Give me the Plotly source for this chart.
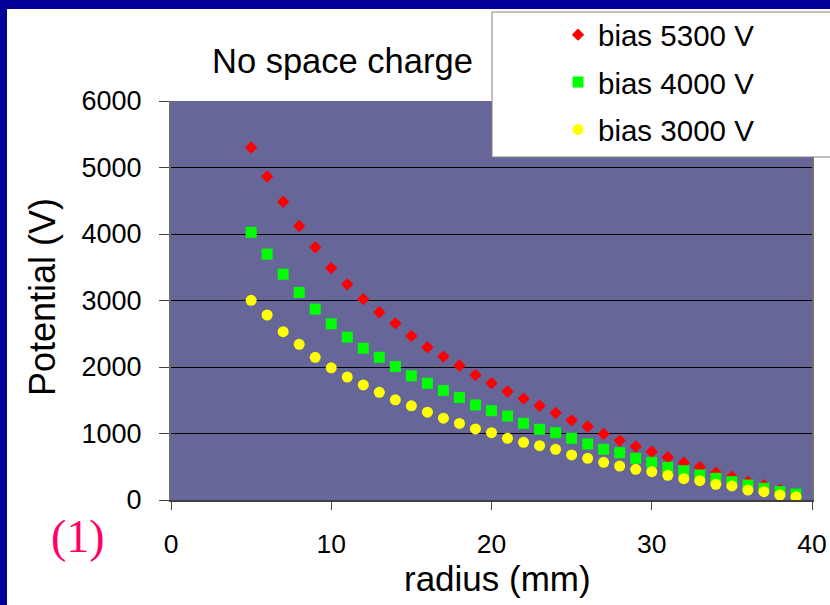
import plotly.graph_objects as go

radius = list(range(5, 40))

bias_5300 = [5300, 4865, 4485, 4120, 3800, 3487, 3243, 3020, 2823, 2657,
             2466, 2297, 2157, 2022, 1880, 1757, 1632, 1525, 1418, 1310,
             1198, 1106, 994, 893, 804, 726, 644, 560, 492, 410,
             350, 274, 222, 150, 75]
bias_4000 = [4025, 3697, 3396, 3120, 2870, 2650, 2450, 2282, 2146, 2008,
             1868, 1755, 1647, 1541, 1429, 1343, 1263, 1153, 1063, 1012,
             927, 842, 762, 711, 627, 566, 491, 441, 376, 326,
             276, 226, 176, 125, 90]
bias_3000 = [3003, 2782, 2531, 2341, 2145, 1988, 1848, 1730, 1620, 1506,
             1417, 1320, 1230, 1152, 1068, 1012, 927, 867, 817, 762,
             677, 627, 566, 511, 461, 426, 371, 321, 291, 236,
             211, 150, 125, 75, 50]

series_names = ["bias 5300 V", "bias 4000 V", "bias 3000 V"]
x_ticks = [0, 10, 20, 30, 40]
y_ticks = [0, 1000, 2000, 3000, 4000, 5000, 6000]

FONT = "Liberation Sans, Arial, sans-serif"

fig = go.Figure()
styles = [
    dict(symbol="diamond", color="#FF0000", size=9.5),
    dict(symbol="square", color="#00FF00", size=11),
    dict(symbol="circle", color="#FFFF00", size=11),
]
for name, vals, st, grp in zip(series_names, [bias_5300, bias_4000, bias_3000], styles, ["a", "b", "c"]):
    fig.add_trace(go.Scatter(
        x=radius, y=vals, mode="markers", name=name, legendgroup=grp,
        marker=dict(symbol=st["symbol"], color=st["color"], size=st["size"], line=dict(width=0)),
        cliponaxis=False,
    ))

W, H = 830, 605
L, R, T, B = 171, 18, 101, 105
pw, ph = W - L - R, H - T - B


def px(x):
    return (x - L) / pw


def py(y):
    return (H - B - y) / ph


shapes = [
    # blue slide frame (top and left strips)
    dict(type="rect", xref="paper", yref="paper", x0=px(-5), x1=px(840), y0=py(9), y1=py(-5),
         fillcolor="#000099", line=dict(width=0), layer="above"),
    dict(type="rect", xref="paper", yref="paper", x0=px(-5), x1=px(7), y0=py(610), y1=py(-5),
         fillcolor="#000099", line=dict(width=0), layer="above"),
    # legend box
    dict(type="rect", xref="paper", yref="paper", x0=px(492), x1=px(840), y0=py(157), y1=py(12),
         fillcolor="white", line=dict(color="#808080", width=1), layer="above"),
]

annotations = [
    dict(text="No space charge", x=px(342), y=py(61), xref="paper", yref="paper",
         showarrow=False, xanchor="center", yanchor="middle",
         font=dict(family=FONT, size=34.5, color="black")),
    dict(text="radius (mm)", x=px(497), y=py(578), xref="paper", yref="paper",
         showarrow=False, xanchor="center", yanchor="middle",
         font=dict(family=FONT, size=35, color="black")),
    dict(text="Potential (V)", x=px(42), y=py(297), xref="paper", yref="paper",
         showarrow=False, xanchor="center", yanchor="middle", textangle=-90,
         font=dict(family=FONT, size=36, color="black")),
    dict(text="(1)", x=px(78), y=py(536), xref="paper", yref="paper",
         showarrow=False, xanchor="center", yanchor="middle",
         font=dict(family="Liberation Serif, Times New Roman, serif", size=46, color="#FF0066")),
]

fig.update_layout(
    width=W, height=H,
    margin=dict(l=L, r=R, t=T, b=B, pad=0, autoexpand=False),
    paper_bgcolor="white",
    plot_bgcolor="#666699",
    showlegend=True,
    legend=dict(
        x=px(558), y=py(9), xanchor="left", yanchor="top",
        bgcolor="rgba(0,0,0,0)", borderwidth=0,
        font=dict(family=FONT, size=29.5, color="black"),
        tracegroupgap=6,
    ),
    shapes=shapes,
    annotations=annotations,
    xaxis=dict(
        range=[0, 40], tickvals=x_ticks, ticktext=[str(v) for v in x_ticks],
        ticks="outside", ticklen=8, tickwidth=1, tickcolor="#404040",
        showgrid=False, zeroline=False, automargin=False,
        showline=True, linecolor="#404040", linewidth=2, mirror=False,
        tickfont=dict(family=FONT, size=26.5, color="black"),
        ticklabelstandoff=11,
    ),
    yaxis=dict(
        range=[0, 6000], tickvals=y_ticks, ticktext=[str(v) for v in y_ticks],
        ticks="outside", ticklen=10, tickwidth=1, tickcolor="#404040",
        showgrid=True, gridcolor="black", gridwidth=1, zeroline=False, automargin=False,
        showline=True, linecolor="#707070", linewidth=2, mirror=True,
        tickfont=dict(family=FONT, size=27, color="black"),
        ticklabelstandoff=12,
    ),
)

fig.write_html("out.html")
